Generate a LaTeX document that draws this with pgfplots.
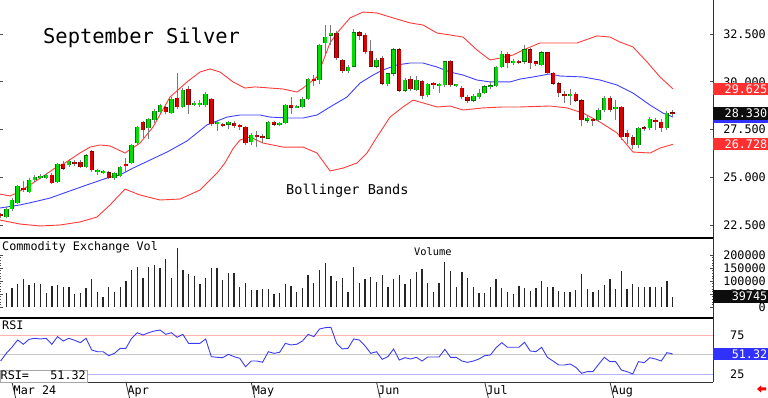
\documentclass[border=0pt]{standalone}
\usepackage{fontspec}
\setmainfont{DejaVu Sans Mono}
\usepackage{pgfplots}
\usepackage{pgfplotstable}
\pgfplotsset{compat=1.18}
\definecolor{cgreen}{HTML}{00E000}
\definecolor{cred}{HTML}{D80000}
\definecolor{bandred}{HTML}{FF3B3B}
\definecolor{bandblue}{HTML}{3F3FFF}
\definecolor{wick}{HTML}{7A7A7A}
\definecolor{boxred}{HTML}{FF3030}
\definecolor{boxblue}{HTML}{3030FF}
\definecolor{rsiblue}{HTML}{3C3CF5}

\pgfplotstableread{
x O H L C
0 22.92 23.45 22.87 23.34
1 23.34 23.90 23.25 23.81
2 23.65 24.60 23.60 24.54
4 24.23 24.95 24.15 24.86
5 24.86 25.12 24.75 25.01
6 25.00 25.15 24.90 25.03
7 24.96 25.22 24.90 25.12
9 24.75 25.75 24.70 25.69
11 25.64 25.95 25.55 25.85
14 25.54 26.22 25.50 26.16
16 25.30 25.45 25.10 25.35
17 25.25 25.38 25.15 25.30
19 24.96 25.30 24.88 25.22
20 25.07 25.60 25.00 25.54
22 25.75 26.75 25.70 26.69
23 26.79 27.70 26.75 27.63
25 27.58 28.10 27.00 28.05
26 28.00 28.55 27.85 28.47
27 28.42 28.85 28.35 28.78
29 28.36 29.20 28.30 29.10
31 28.68 29.65 28.60 29.57
33 28.81 29.00 28.75 28.86
34 28.82 29.05 28.70 28.86
35 28.78 29.45 28.70 29.36
37 27.82 27.95 27.42 27.86
39 27.74 27.95 27.55 27.89
43 26.85 27.30 26.69 27.21
46 27.05 27.95 27.00 27.89
48 27.77 27.90 27.70 27.80
49 27.84 28.85 27.80 28.78
51 28.66 28.80 28.60 28.70
52 28.68 29.20 28.60 29.10
53 29.10 30.20 29.05 30.14
55 30.09 32.00 29.90 31.92
56 32.03 32.97 31.35 32.34
57 32.40 32.97 31.90 32.55
60 30.56 30.90 30.45 30.77
61 30.82 32.75 30.75 32.60
65 30.82 31.25 30.70 31.14
67 29.88 30.45 29.80 30.41
68 30.41 31.75 30.30 31.71
70 29.52 30.20 29.45 30.09
72 29.57 30.30 29.50 30.09
74 29.31 29.95 29.20 29.88
76 29.81 29.95 29.40 29.85
77 29.83 31.10 29.75 31.04
79 29.81 29.90 29.75 29.85
82 29.04 29.35 28.95 29.25
83 29.20 29.60 29.10 29.41
84 29.41 29.85 29.35 29.73
85 29.73 30.00 29.60 29.78
86 29.78 30.85 29.70 30.77
87 30.77 31.60 30.70 31.45
89 31.02 31.20 30.90 31.05
91 31.04 31.90 30.95 31.71
94 30.88 31.60 30.80 31.51
99 29.25 29.60 28.80 29.36
102 27.95 28.20 27.85 28.10
104 28.00 28.60 27.90 28.52
105 28.52 29.25 28.40 29.15
107 28.61 29.05 28.00 28.65
111 26.69 27.65 26.55 27.58
113 27.58 28.15 27.45 28.05
116 27.58 28.45 27.50 28.36
}\greentab

\pgfplotstableread{
x O H L C
-1 23.05 23.15 22.85 23.00
3 24.44 24.80 24.23 24.33
8 25.12 25.20 24.65 24.70
10 25.69 25.85 25.40 25.48
12 25.78 25.90 25.60 25.72
13 25.80 25.90 25.48 25.54
15 26.37 26.45 25.30 25.38
18 25.27 25.35 24.90 24.96
21 25.66 26.00 25.30 25.62
24 27.89 27.95 27.05 27.47
28 28.63 28.75 28.30 28.42
30 29.15 30.46 28.55 28.68
32 29.62 29.80 28.30 28.78
36 29.10 29.15 27.70 27.79
38 27.76 27.85 27.65 27.72
40 27.84 27.92 27.60 27.68
41 27.70 27.80 27.50 27.66
42 27.63 27.70 26.70 26.79
44 27.18 27.40 26.58 27.14
45 27.13 27.25 26.80 27.09
47 27.89 27.95 27.68 27.74
50 28.78 29.20 28.30 28.63
54 30.14 30.35 29.80 30.04
58 32.55 32.65 31.15 31.24
59 31.14 31.20 30.45 30.56
62 32.60 32.65 32.20 32.40
63 32.45 32.55 31.45 31.56
64 31.61 32.20 30.75 30.82
66 31.24 31.35 29.85 29.93
69 31.71 31.75 29.45 29.52
71 30.14 30.30 29.50 29.62
73 30.04 30.10 29.10 29.25
75 29.90 30.00 29.60 29.86
78 31.09 31.15 29.75 29.83
80 29.67 29.80 29.10 29.20
81 29.20 29.30 28.90 29.04
88 31.45 31.55 30.70 30.98
90 31.05 31.15 30.95 31.02
92 31.71 31.75 30.65 30.98
93 31.04 31.10 30.85 30.93
95 31.51 31.55 30.35 30.46
96 30.46 30.50 29.85 29.93
97 29.93 29.98 29.20 29.41
98 29.36 29.50 28.90 29.25
100 29.36 29.45 28.95 29.04
101 29.04 29.10 27.70 28.00
103 28.02 28.05 27.70 27.98
106 29.15 29.25 28.40 28.52
108 28.68 28.75 26.95 27.11
109 27.32 27.45 26.75 27.11
110 27.11 27.20 26.50 26.69
112 27.58 27.70 27.40 27.53
114 28.00 28.10 27.50 27.89
115 27.89 28.05 27.35 27.58
117 28.36 28.50 28.15 28.33
}\redtab

\pgfplotstableread{
x y
-1.11 24.12
0.65 24.02
1.88 24.18
4.16 24.60
6.80 25.12
8.55 25.48
10.31 25.75
12.94 26.27
14.70 26.58
16.45 26.69
18.21 26.64
20.84 26.27
23.48 26.79
25.76 27.63
28.74 29.20
31.73 29.99
34.01 30.51
35.76 30.67
37.52 30.51
39.81 29.99
41.91 29.67
43.67 29.73
48.59 29.62
51.05 29.46
52.10 29.67
54.56 30.25
56.84 32.03
58.07 32.55
60.35 33.34
62.63 33.65
65.09 33.60
67.37 33.39
70.89 33.08
73.17 32.97
75.63 32.55
77.91 32.45
80.20 32.34
82.65 31.66
84.94 31.14
86.70 31.24
88.97 31.40
90.73 31.66
93.71 32.03
95.99 32.03
100.21 32.03
103.72 32.40
106.00 32.34
107.76 32.08
110.04 31.82
112.50 31.04
114.78 30.25
117.07 29.625
}\bbup

\pgfplotstableread{
x y
-1.11 23.39
2.41 23.55
4.69 23.70
7.67 23.91
10.66 24.23
14.17 24.60
17.68 24.96
19.96 25.12
22.25 25.48
25.23 25.90
28.22 26.32
31.73 26.90
35.24 27.74
38.75 28.15
41.04 28.26
44.55 28.26
46.30 28.15
49.82 28.10
52.10 28.10
54.56 28.26
56.84 28.68
59.82 29.20
62.10 29.93
64.39 30.35
66.15 30.62
68.60 30.88
70.89 30.98
73.17 30.98
75.63 30.77
77.91 30.51
80.20 30.35
82.65 30.09
84.94 29.99
88.45 29.99
90.20 30.14
92.48 30.25
95.47 30.41
97.22 30.30
101.26 30.25
104.25 30.09
107.23 29.83
110.04 29.41
113.03 28.78
115.31 28.36
117.07 28.15
}\bbmid

\pgfplotstableread{
x y
-1.11 22.76
2.41 22.55
5.92 22.45
9.43 22.50
12.94 22.66
15.93 22.92
18.21 23.55
20.84 24.38
23.48 24.07
26.99 23.81
30.50 23.86
34.01 24.33
37.00 25.22
38.40 25.75
39.81 26.50
41.04 26.95
42.79 27.11
45.08 26.79
48.59 26.58
52.10 26.58
54.56 26.27
56.84 25.33
59.12 25.48
61.58 25.75
63.33 26.27
65.09 27.11
67.37 28.15
69.66 28.68
71.41 29.04
73.17 28.89
75.63 28.68
77.91 28.73
80.20 28.52
83.71 28.63
87.22 28.68
90.20 28.68
95.47 28.73
98.45 28.63
101.26 28.36
104.25 27.89
107.23 27.32
110.04 26.32
113.03 26.27
114.78 26.53
117.07 26.728
}\bblo

\pgfplotstableread{
x v
0 52700
1 71800
2 87000
3 106000
4 84600
5 91000
6 87000
7 52700
8 80800
9 84600
10 78000
11 75600
12 48800
13 52700
14 71800
15 107700
16 58900
17 37200
18 75600
19 58900
20 75600
21 100000
22 142000
23 155000
24 112800
25 152500
26 161500
27 151000
28 184600
29 110000
30 225600
31 142000
32 125600
33 120500
34 87000
35 110000
36 148700
37 148700
38 103800
39 129500
40 129500
41 75600
42 91000
43 65400
44 65400
45 69200
46 69200
47 48800
48 52700
49 87000
50 80800
51 56500
52 71800
53 123000
54 93500
55 142000
56 168000
57 120500
58 100000
59 112800
60 58900
61 155000
62 91000
63 106000
64 116500
65 97300
66 123000
67 75600
68 106000
69 123000
70 87000
71 106500
72 135800
73 146000
74 91000
75 58900
76 91000
77 171800
78 138500
79 78000
80 133500
81 110000
82 78000
83 52700
84 55000
85 78000
86 106500
87 71800
88 56500
89 50000
90 80800
91 74300
92 61500
93 71800
94 101200
95 75600
96 78000
97 62800
98 56500
99 56500
100 65400
101 125600
102 68000
103 58900
104 65400
105 84600
106 107700
107 68000
108 138500
109 68000
110 87000
111 78000
112 78000
113 75600
114 75600
115 75600
116 101200
117 39745
}\voltab

\pgfplotstableread{
x r
-1 42.1
0 52.0
1 60.0
2 69.2
3 63.7
4 70.1
5 71.4
6 70.5
7 71.4
8 63.7
9 73.5
10 67.9
11 71.4
12 68.8
13 65.7
14 71.4
15 56.3
16 54.1
17 54.1
18 49.0
19 52.0
20 58.5
21 58.5
22 71.4
23 78.6
24 75.6
25 78.6
26 80.8
27 82.1
28 76.5
29 78.6
30 72.7
31 76.5
32 64.9
33 64.9
34 64.9
35 70.5
36 47.7
37 46.9
38 46.4
39 50.8
40 47.7
41 45.6
42 34.8
43 42.1
44 42.1
45 40.5
46 54.1
47 52.0
48 53.4
49 64.9
50 62.8
51 63.7
52 67.9
53 76.5
54 73.5
55 83.4
56 85.1
57 85.6
58 64.9
59 57.6
60 58.5
61 70.5
62 69.2
63 61.5
64 52.0
65 54.1
66 44.3
67 47.7
68 57.6
69 43.4
70 46.4
71 44.7
72 46.9
73 42.1
74 47.3
75 47.3
76 47.3
77 57.2
78 46.9
79 46.9
80 42.1
81 40.4
82 42.1
83 44.7
84 49.0
85 49.9
86 59.3
87 65.8
88 59.8
89 59.8
90 59.8
91 66.2
92 55.0
93 54.2
94 59.8
95 46.9
96 42.1
97 37.0
98 37.0
99 38.3
100 34.0
101 26.3
102 28.4
103 28.4
104 37.8
105 46.9
106 41.3
107 41.3
108 30.5
109 28.4
110 25.4
111 41.3
112 40.0
113 46.4
114 44.7
115 42.1
116 52.9
117 51.32
}\rsitab

\pgfplotsset{
  nomark/.style={only marks, mark=*, mark size=0pt, mark options={draw opacity=0, fill opacity=0}},
  wickstyle/.style={nomark, error bars/.cd, y dir=both, y explicit, error mark=none, error bar style={line width=0.9bp, wick}},
  bodyout/.style={nomark, error bars/.cd, y dir=both, y explicit, error mark=none, error bar style={line width=4.4bp, #1}},
  bodyfill/.style={nomark, error bars/.cd, y dir=both, y explicit, error mark=none, error bar style={line width=3.0bp, #1}},
}

\begin{document}
\begin{tikzpicture}
\useasboundingbox (0,0) rectangle (768bp,398bp);
\pgfplotsset{
  every axis/.append style={scale only axis, width=713bp, xmin=-1.107, xmax=124.09,
    axis line style={draw=none}, xtick=\empty, tick align=inside,
    major tick length=3bp, minor tick length=1.5bp,
    tick style={black!70, line width=0.6bp},
    /pgf/number format/assume math mode=true,
    tick label style={font=\fontsize{11.8}{12}\selectfont, inner sep=0pt},
    yticklabel pos=right},
}
% ---------------- price panel
\begin{axis}[at={(0bp,160bp)}, anchor=south west, height=238bp,
  ymin=21.82, ymax=34.28, ytick={22.5,25,27.5,30,32.5}, ytick pos=both,
  yticklabel style={anchor=east, xshift=53bp, /pgf/number format/.cd, fixed, fixed zerofill, precision=3}]
\addplot[bandred, line width=0.9bp] table[x=x,y=y] {\bbup};
\addplot[bandblue, line width=0.9bp] table[x=x,y=y] {\bbmid};
\addplot[bandred, line width=0.9bp] table[x=x,y=y] {\bblo};
\addplot[wickstyle] table[x=x, y expr={(\thisrow{H}+\thisrow{L})/2}, y error expr={(\thisrow{H}-\thisrow{L})/2}] {\greentab};
\addplot[wickstyle] table[x=x, y expr={(\thisrow{H}+\thisrow{L})/2}, y error expr={(\thisrow{H}-\thisrow{L})/2}] {\redtab};
\addplot[bodyout=green!45!black] table[x=x, y expr={(\thisrow{O}+\thisrow{C})/2}, y error expr={max(abs(\thisrow{C}-\thisrow{O})/2,0.03)+0.022}] {\greentab};
\addplot[bodyout=red!45!black] table[x=x, y expr={(\thisrow{O}+\thisrow{C})/2}, y error expr={max(abs(\thisrow{C}-\thisrow{O})/2,0.03)+0.022}] {\redtab};
\addplot[bodyfill=cgreen] table[x=x, y expr={(\thisrow{O}+\thisrow{C})/2}, y error expr={max(abs(\thisrow{C}-\thisrow{O})/2-0.022,0.03)}] {\greentab};
\addplot[bodyfill=cred] table[x=x, y expr={(\thisrow{O}+\thisrow{C})/2}, y error expr={max(abs(\thisrow{C}-\thisrow{O})/2-0.022,0.03)}] {\redtab};
\coordinate (pUp) at (axis cs:124.09,29.625);
\coordinate (pLast) at (axis cs:124.09,28.33);
\coordinate (pLo) at (axis cs:124.09,26.728);
\end{axis}
% ---------------- volume panel
\begin{axis}[at={(0bp,80bp)}, anchor=south west, height=80bp,
  ymin=-42300, ymax=265400, ytick={0,50000,100000,150000,200000}, minor y tick num=4,
  ytick pos=both, scaled y ticks=false,
  yticklabel style={anchor=east, xshift=53bp, /pgf/number format/.cd, fixed, precision=0, 1000 sep={}}]
\addplot[ycomb, black!85, line width=1.3bp] table[x=x,y=v] {\voltab};
\coordinate (vLast) at (axis cs:124.09,39745);
\end{axis}
% ---------------- RSI panel
\begin{axis}[at={(0bp,16bp)}, anchor=south west, height=64bp, clip=false,
  ymin=15.08, ymax=97.55, ytick={25,75}, ytick pos=right,
  yticklabel style={anchor=west, xshift=17bp},
  xtick={1,21,43,65,84,106}, xticklabels={Mar 24,Apr,May,Jun,Jul,Aug},
  xtick pos=bottom, xtick style={draw=none},
  xticklabel style={anchor=base west, xshift=1.5bp, yshift=-12.3bp}]
\addplot[red!30, line width=0.8bp] coordinates {(-1.107,75) (124.09,75)};
\addplot[gray!45, line width=0.8bp] coordinates {(-1.107,50) (124.09,50)};
\addplot[blue!30, line width=0.8bp] coordinates {(-1.107,25) (124.09,25)};
\addplot[rsiblue, line width=0.9bp] table[x=x,y=r] {\rsitab};
\coordinate (rLast) at (axis cs:124.09,51.32);
\pgfplotsinvokeforeach{1,21,43,65,84,106}{\draw[black!80, line width=0.8bp] (axis cs:#1,15.08) -- ++(0,-16bp);}
\end{axis}
% ---------------- frame lines
\draw[black!80, line width=0.9bp] (713bp,16bp) -- (713bp,398bp);
\draw[black, line width=1.3bp] (0,160bp) -- (713bp,160bp);
\draw[black, line width=1.3bp] (0,80bp) -- (713bp,80bp);
\draw[black!80, line width=0.9bp] (0,16bp) -- (713bp,16bp);
% ---------------- texts
\node[anchor=base west, inner sep=0, font=\fontsize{20.5}{22}\selectfont] at (43bp,354bp) {September Silver};
\node[anchor=base west, inner sep=0, font=\fontsize{13.6}{15}\selectfont] at (286bp,203bp) {Bollinger Bands};
\node[anchor=base west, inner sep=0, font=\fontsize{11.8}{12}\selectfont] at (2bp,147.3bp) {Commodity Exchange Vol};
\node[anchor=base west, inner sep=0, font=\fontsize{10.4}{12}\selectfont] at (414bp,142.3bp) {Volume};
\node[anchor=base west, inner sep=0, font=\fontsize{11.8}{12}\selectfont] at (2bp,68.3bp) {RSI};
\node[draw=gray!70, fill=white, anchor=south west, minimum width=87bp, minimum height=12bp, inner sep=0] at (0,16bp) {};
\node[anchor=base west, inner sep=0, font=\fontsize{11.8}{12}\selectfont] at (0.5bp,18.7bp) {RSI=};
\node[anchor=base east, inner sep=0, font=\fontsize{11.8}{12}\selectfont] at (86bp,18.7bp) {51.32};
% ---------------- value boxes
\tikzset{vbox/.style={anchor=west, text=white, inner xsep=1bp, inner ysep=0pt, text width=53bp, align=right, minimum height=12.4bp, font=\fontsize{11.8}{12}\selectfont}}
\node[vbox, fill=boxred] at (pUp) {29.625};
\node[vbox, fill=black!95] (lastbox) at (pLast) {28.330};
\fill[boxblue] (lastbox.south west) rectangle ([yshift=-2.6bp]lastbox.south east);
\node[vbox, fill=boxred] at (pLo) {26.728};
\node[vbox, fill=black!95] at (vLast) {39745};
\node[vbox, fill=boxblue] at (rLast) {51.32};
% ---------------- red arrow
\fill[red] (757bp,9bp) -- (761bp,12.5bp) -- (761bp,10.5bp) -- (766bp,10.5bp) -- (766bp,7.5bp) -- (761bp,7.5bp) -- (761bp,5.5bp) -- cycle;
\end{tikzpicture}
\end{document}
